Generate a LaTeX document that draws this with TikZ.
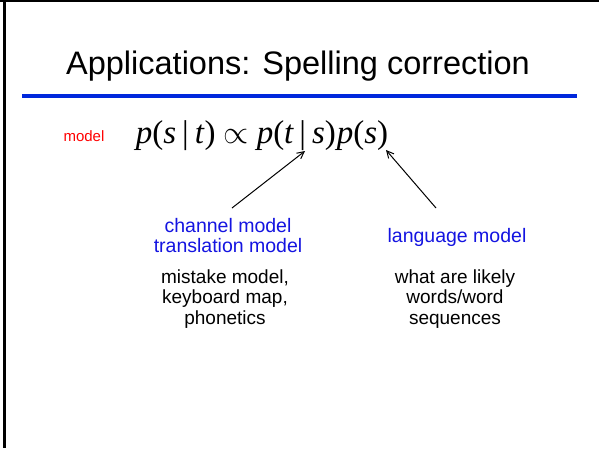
\documentclass[tikz,border=0pt]{standalone}
\usepackage{fontspec}
\setmainfont{Liberation Sans}
\newfontfamily\timesf{Liberation Serif}
\usetikzlibrary{arrows.meta}
\definecolor{rulblue}{RGB}{0,40,220}
\definecolor{txtblue}{RGB}{20,20,225}
\definecolor{txtred}{RGB}{255,0,0}
\tikzset{
  txt/.style={inner sep=0pt, align=center, anchor=base},
  bluetxt/.style={txt, text=txtblue, font=\fontsize{19.5}{20}\selectfont},
  blacktxt/.style={txt, text=black, font=\fontsize{19}{20.5}\selectfont},
  pointer/.style={line width=1pt, -{Straight Barb[length=7pt,width=7pt,line width=1pt]}}
}
\begin{document}
\begin{tikzpicture}[x=1pt,y=-1pt]
\useasboundingbox (0,0) rectangle (599,448);
\fill[white] (0,0) rectangle (599,448);
\draw[line width=2.5pt] (4.5,0) -- (4.5,448);
\draw[line width=2pt] (0,1) -- (599,1);
% title
\node[txt, font=\fontsize{32.5}{38}\selectfont] (title) at (298,74) {Applications: Spelling correction};
\coordinate (rl) at (22,96);
\coordinate (rr) at (577,96);
\draw[rulblue, line width=4pt] (rl) -- (rr);
% model label and equation
\node[txt, text=txtred, font=\fontsize{15}{17}\selectfont] (model) at (84,141) {model};
\node[txt, font=\fontsize{33}{35}\selectfont\timesf] (eq) at (262,143)
  {\itshape p\textup{(}s\kern6pt\textup{|}\kern6pt t\textup{)}\kern8pt\scalebox{1.3}{$\propto$}\kern8pt p\textup{(}t\kern6pt\textup{|}\kern6pt s\textup{)}\kern1pt p\textup{(}s\textup{)}};
% blue labels
\node[bluetxt] (chan) at (228,252) {channel model\\translation model};
\node[bluetxt] (lang) at (457,242) {language model};
% black descriptions
\node[blacktxt] (mist) at (225,324) {mistake model,\\keyboard map,\\phonetics};
\node[blacktxt] (what) at (455,324) {what are likely\\words/word\\sequences};
% arrows
\coordinate (t1) at (232,208);
\coordinate (h1) at (305,151);
\coordinate (t2) at (436,208);
\coordinate (h2) at (386,150);
\draw[pointer] (t1) -- (h1);
\draw[pointer] (t2) -- (h2);
\end{tikzpicture}
\end{document}
